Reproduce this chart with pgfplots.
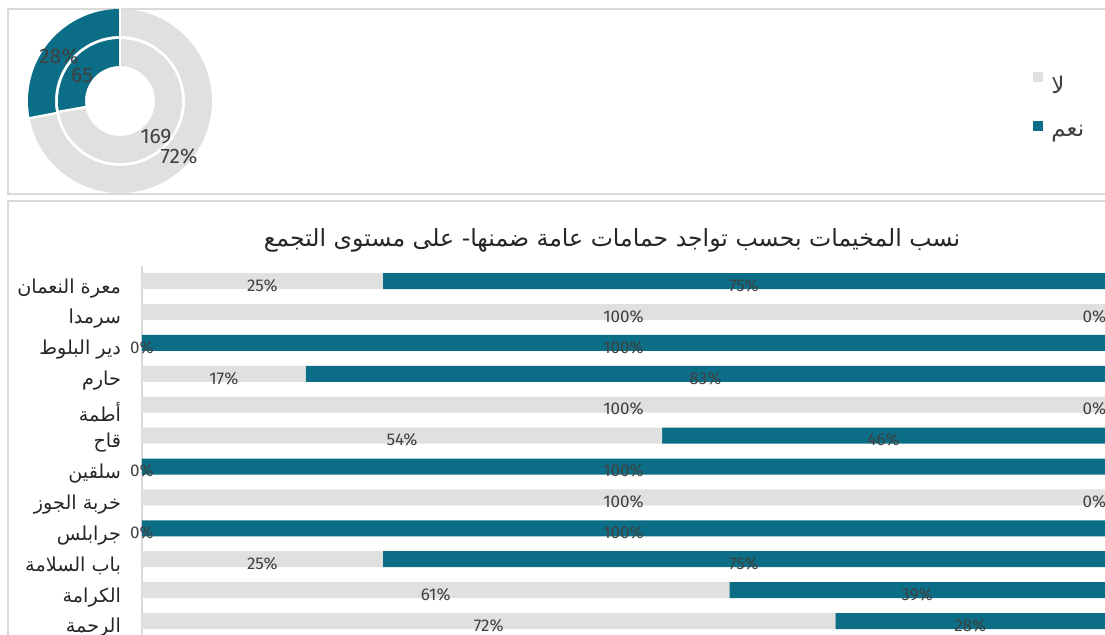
\documentclass[border=0pt]{standalone}
\usepackage{fontspec}
\setmainfont{Fira Sans}
\newfontfamily\arabicfont[Script=Arabic]{DejaVu Sans}
\usepackage{pgfplots}
\usepackage{pgfplotstable}
\pgfplotsset{compat=1.18}
\TeXXeTstate=1

\definecolor{yescol}{HTML}{0B6E86}
\definecolor{nocol}{HTML}{E0E0E0}
\definecolor{framecol}{HTML}{D9D9D9}
\definecolor{txtcol}{HTML}{404040}

% share of camps with / without public bathrooms, per gathering
\pgfplotstableread{
idx no yes
0 25 75
1 100 0
2 0 100
3 17 83
4 100 0
5 54 46
6 0 100
7 100 0
8 0 100
9 25 75
10 61 39
11 72 28
}\camps

% donut: inner ring = counts, outer ring = percentages
\def\innerYes{65}\def\innerNo{169}
\def\outerYes{28}\def\outerNo{72}
\pgfmathsetmacro\outerEnd{90+\outerYes/(\outerYes+\outerNo)*360}
\pgfmathsetmacro\innerEnd{90+\innerYes/(\innerYes+\innerNo)*360}

\newcommand\ringseg[5]{\fill[#1] (axis cs:0,0) ++(#2:#4) arc[start angle=#2,end angle=#3,radius=#4] -- ++(#3:{#5-#4}) arc[start angle=#3,end angle=#2,radius=#5] -- cycle;}

\newcommand\lblfont{\fontsize{8.5}{10}\selectfont}
\newcommand\donutfont{\fontsize{10.5}{12}\selectfont}

\begin{document}
\begin{tikzpicture}
\useasboundingbox (0,0) rectangle (552.5pt,317.5pt);
\begin{scope}
\clip (0,0) rectangle (552.5pt,317.5pt);

% panels, legend and title (pixel grid, y down)
\begin{scope}[x=0.5pt,y=-0.5pt,yshift=317.5pt]
  \draw[framecol, line width=1pt] (8,9) rectangle (1125,194);
  \draw[framecol, line width=1pt] (8,201) rectangle (1125,660);
  \fill[nocol] (1033,72) rectangle (1043,82);
  \node[anchor=west, text=txtcol, font=\arabicfont\fontsize{11.5}{13}\selectfont, inner sep=0pt] at (1051,85) {\beginR لا\endR};
  \fill[yescol] (1033,121) rectangle (1043,131);
  \node[anchor=west, text=txtcol, font=\arabicfont\fontsize{11.5}{13}\selectfont, inner sep=0pt] at (1051,134) {\beginR نعم\endR};
  \node[font=\arabicfont\fontsize{11.8}{14}\selectfont, text=black!85] at (612,240)
    {\beginR نسب المخيمات بحسب تواجد حمامات عامة ضمنها- على مستوى التجمع\endR};
\end{scope}

% stacked bars
\begin{axis}[
    at={(71pt,-0.75pt)}, anchor=south west, scale only axis,
    width=481.5pt, height=185.4pt,
    xmin=0, xmax=100, ymin=-0.5, ymax=11.5, y dir=reverse,
    xbar stacked, bar width=8pt,
    axis x line=none, axis y line=left,
    y axis line style={draw=framecol, line width=1pt, -},
    major tick length=0pt,
    ytick={0,...,11},
    yticklabels={{\beginR معرة النعمان\endR},{\beginR سرمدا\endR},{\beginR دير البلوط\endR},{\beginR حارم\endR},{\beginR أطمة\endR},{\beginR قاح\endR},{\beginR سلقين\endR},{\beginR خربة الجوز\endR},{\beginR جرابلس\endR},{\beginR باب السلامة\endR},{\beginR الكرامة\endR},{\beginR الرحمة\endR}},
    yticklabel style={font=\arabicfont\fontsize{9.6}{11}\selectfont, text=black!85, xshift=-7pt, yshift=-3.5pt},
  ]
  \addplot[fill=nocol, draw=none] table[x=no, y=idx] {\camps};
  \addplot[fill=yescol, draw=none] table[x=yes, y=idx] {\camps};
\end{axis}

% value labels, centred in each segment
\begin{axis}[
    at={(71pt,-0.75pt)}, anchor=south west, scale only axis,
    width=481.5pt, height=185.4pt,
    xmin=0, xmax=100, ymin=-0.5, ymax=11.5, y dir=reverse,
    hide axis, clip=false,
    nodes near coords={\pgfmathprintnumber[assume math mode=true]{\pgfplotspointmeta}\%},
    every node near coord/.append style={anchor=center, font=\lblfont, text=txtcol, inner sep=0pt, yshift=-2.2pt},
  ]
  \addplot[draw=none, point meta=\thisrow{no}] table[x expr=\thisrow{no}/2, y=idx] {\camps};
  \addplot[draw=none, point meta=\thisrow{yes}] table[x expr={min(\thisrow{no}+\thisrow{yes}/2,98.9)}, y=idx] {\camps};
\end{axis}

% donut (axis units = pixels)
\begin{axis}[
    at={(60pt,267pt)}, anchor=center, scale only axis,
    width=100pt, height=100pt,
    xmin=-100, xmax=100, ymin=-100, ymax=100,
    hide axis, clip=false,
  ]
  \ringseg{yescol}{90}{\outerEnd}{46pt}{32.5pt}
  \ringseg{nocol}{\outerEnd}{450}{46pt}{32.5pt}
  \ringseg{yescol}{90}{\innerEnd}{31pt}{17.5pt}
  \ringseg{nocol}{\innerEnd}{450}{31pt}{17.5pt}
  \draw[white, line width=1.2pt] (axis cs:0,0) ++(90:17pt) -- ++(90:30pt);
  \draw[white, line width=1.2pt] (axis cs:0,0) ++(\outerEnd:32pt) -- ++(\outerEnd:15pt);
  \draw[white, line width=1.2pt] (axis cs:0,0) ++(\innerEnd:17pt) -- ++(\innerEnd:15pt);
  \node[text=txtcol, font=\donutfont] at (axis cs:-61,45) {\outerYes\%};
  \node[text=txtcol, font=\donutfont] at (axis cs:-38,25) {\innerYes};
  \node[text=txtcol, font=\donutfont] at (axis cs:36,-36) {\innerNo};
  \node[text=txtcol, font=\donutfont] at (axis cs:59,-55) {\outerNo\%};
\end{axis}
\end{scope}
\end{tikzpicture}
\end{document}
